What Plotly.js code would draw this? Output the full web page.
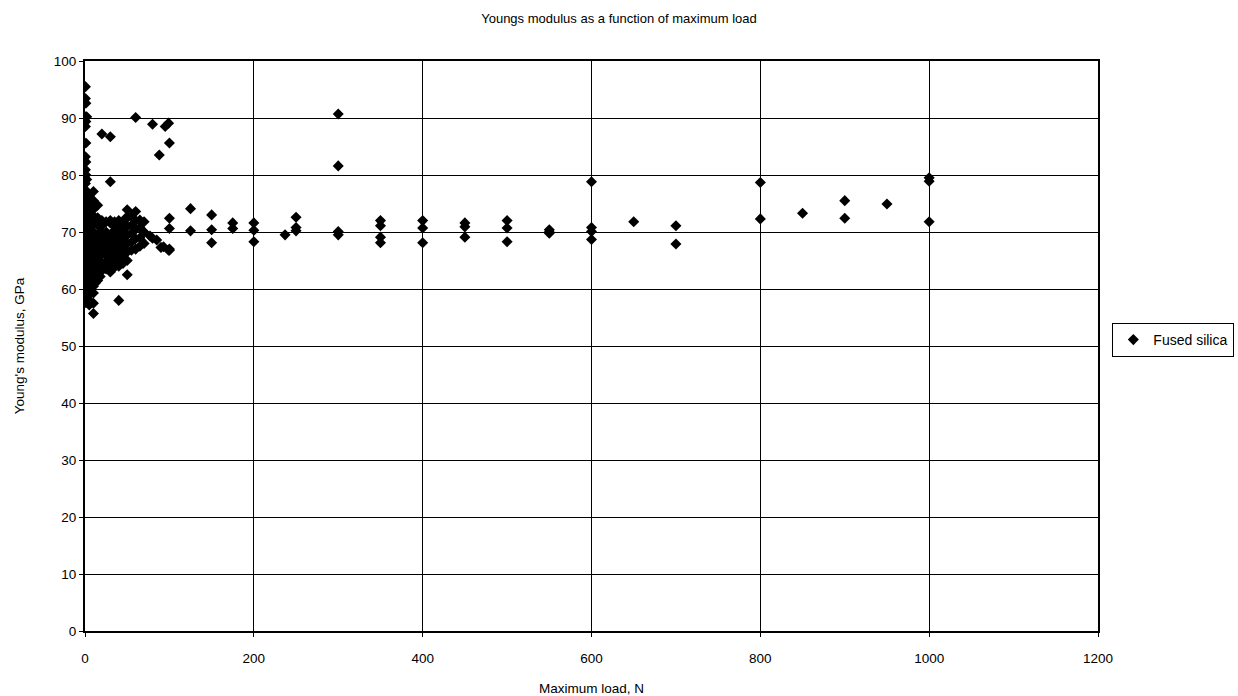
<!DOCTYPE html>
<html>
<head>
<meta charset="utf-8">
<script src="https://cdn.plot.ly/plotly-3.0.1.min.js"></script>
<style>html,body{margin:0;padding:0;background:#fff;}#chart{width:1238px;height:696px;}</style>
</head>
<body>
<div id="chart"></div>
<script>
// Maximum load (N) for each measurement
const loadN = [
  0.5,0.5,0.5,0.5,0.5,0.5,0.5,0.5,0.5,0.5,0.5,0.5,0.5,0.5,0.5,0.5,
  1,1,1,1,1,1,1,1,1,1,1,1,1,1,1,1,
  2,2,2,2,2,2,2,2,2,2,2,2,2,2,2,
  5,5,5,5,5,5,5,5,5,5,5,5,5,5,5,
  8,8,8,8,8,8,8,8,
  10,10,10,10,10,10,10,10,10,10,10,10,10,10,10,
  12,12,12,12,12,12,
  15,15,15,15,15,15,15,15,15,15,
  18,18,18,18,18,
  20,20,20,20,20,20,20,20,20,
  22,22,22,22,
  25,25,25,25,25,25,25,
  30,30,30,30,30,30,30,30,30,30,
  32,32,32,32,
  35,35,35,35,35,35,35,
  38,38,38,38,
  40,40,40,40,40,40,40,40,
  42,42,42,
  45,45,45,45,45,45,
  48,48,48,
  50,50,50,50,50,50,50,50,
  55,55,55,55,55,
  60,60,60,60,60,60,
  65,65,65,65,
  70,70,70,
  77,85,93,99,
  80,80,88,90,95,99,100,100,100,100,100,
  125,125,
  150,150,150,
  175,175,
  200,200,200,
  237,
  250,250,250,
  300,300,300,300,
  350,350,350,350,
  400,400,400,
  450,450,450,
  500,500,500,
  550,550,550,
  600,600,600,600,
  650,
  700,700,
  800,800,
  850,
  900,900,
  950,
  1000,1000,1000
];
// Young's modulus (GPa) for each measurement
const modulusGPa = [
  95.5,93.4,90.2,88.5,83.2,80.9,78.5,76.4,75.1,73.2,71.4,69.6,67.8,66.0,63.0,60.0,
  92.6,89.4,85.6,82.3,80.0,77.3,75.8,73.9,72.0,70.2,68.4,66.6,64.2,61.8,59.4,57.6,
  90.2,79.2,74.5,72.6,70.8,69.0,67.2,65.4,64.8,63.6,62.4,61.2,60.6,58.8,58.2,
  76.5,74.8,73.5,72.0,70.5,69.0,67.5,66.0,64.5,63.0,61.5,60.0,59.0,58.0,57.2,
  73.0,71.0,69.3,67.8,66.2,64.0,62.8,60.8,
  77.1,75.5,74.0,72.8,71.5,70.0,68.2,66.5,65.0,63.5,62.0,60.5,59.3,57.5,55.7,
  71.8,69.0,67.4,65.6,63.2,61.0,
  74.7,72.5,71.2,69.5,68.0,66.8,65.0,63.8,62.5,61.5,
  71.0,68.8,66.4,64.0,62.2,
  87.2,72.0,71.3,70.0,68.5,67.2,66.0,64.5,63.2,
  71.5,69.2,66.8,64.2,
  71.8,70.0,68.8,67.5,66.0,64.8,63.5,
  86.7,78.8,72.0,71.6,69.5,68.2,67.0,65.5,64.2,63.0,
  71.5,69.0,66.5,64.6,
  71.8,70.3,69.0,67.6,66.2,65.0,63.8,
  71.4,68.4,66.0,64.4,
  72.0,70.8,69.5,68.0,66.5,65.2,64.0,58.0,
  71.2,68.8,66.2,
  71.5,70.0,68.6,67.2,65.8,64.5,
  72.4,69.2,66.9,
  73.9,72.5,71.0,69.5,68.0,66.5,65.0,62.5,
  72.8,71.2,69.8,68.2,66.8,
  90.1,73.6,72.0,70.5,68.8,67.0,
  72.1,70.8,69.0,67.5,
  71.8,70.0,68.0,
  69.3,68.6,67.4,66.8,
  88.9,68.9,83.5,67.3,88.5,89.1,85.6,72.4,70.6,67.0,66.8,
  74.1,70.2,
  73.0,70.4,68.1,
  71.6,70.6,
  71.6,70.3,68.3,
  69.5,
  72.6,70.8,70.2,
  90.7,81.6,70.1,69.5,
  72.0,71.1,69.1,68.1,
  72.0,70.7,68.1,
  71.6,70.9,69.1,
  72.0,70.7,68.3,
  70.4,70.0,69.8,
  78.8,70.8,70.1,68.7,
  71.8,
  71.1,67.9,
  78.7,72.3,
  73.3,
  75.5,72.4,
  74.9,
  79.5,78.9,71.8
];
const seriesName = "Fused silica";
const chartTitle = "Youngs modulus as a function of maximum load";
const xTitle = "Maximum load, N";
const yTitle = "Young's modulus, GPa";

const FONT = 'Liberation Sans, Arial, sans-serif';
const trace = {
  x: loadN, y: modulusGPa, name: seriesName,
  type: 'scatter', mode: 'markers',
  marker: {symbol: 'diamond', size: 8.5, color: '#000'},
  showlegend: true
};
const axisCommon = {
  showgrid: true, gridcolor: '#000', gridwidth: 1,
  showline: true, linecolor: '#000', linewidth: 2, mirror: true,
  ticks: 'outside', ticklen: 4, tickcolor: '#000',
  zeroline: false, automargin: false,
  tickfont: {family: FONT, size: 13.5, color: '#000'}
};
const layout = {
  width: 1238, height: 696,
  margin: {l: 85, r: 140, t: 61, b: 65},
  paper_bgcolor: '#fff', plot_bgcolor: '#fff',
  font: {family: FONT, color: '#000'},
  title: {text: chartTitle, x: 0.5, xanchor: 'center', y: 0.974, yanchor: 'middle',
          font: {size: 13, color: '#000'}},
  xaxis: Object.assign({}, axisCommon, {
    range: [0, 1200], dtick: 200, tick0: 0, ticklabelstandoff: 10,
    title: {text: xTitle, font: {size: 13.5}, standoff: 18}
  }),
  yaxis: Object.assign({}, axisCommon, {
    range: [0, 100], dtick: 10, tick0: 0, ticklabelstandoff: 0,
    title: {text: yTitle, font: {size: 13.5}, standoff: 26}
  }),
  legend: {xref: 'container', yref: 'container', x: 0.8985, xanchor: 'left',
           y: 0.5115, yanchor: 'middle',
           bordercolor: '#000', borderwidth: 1, bgcolor: '#fff',
           font: {size: 14, color: '#000'}, itemwidth: 30, tracegroupgap: 0},
  showlegend: true
};
Plotly.newPlot('chart', [trace], layout, {displayModeBar: false, staticPlot: true});
</script>
</body>
</html>
